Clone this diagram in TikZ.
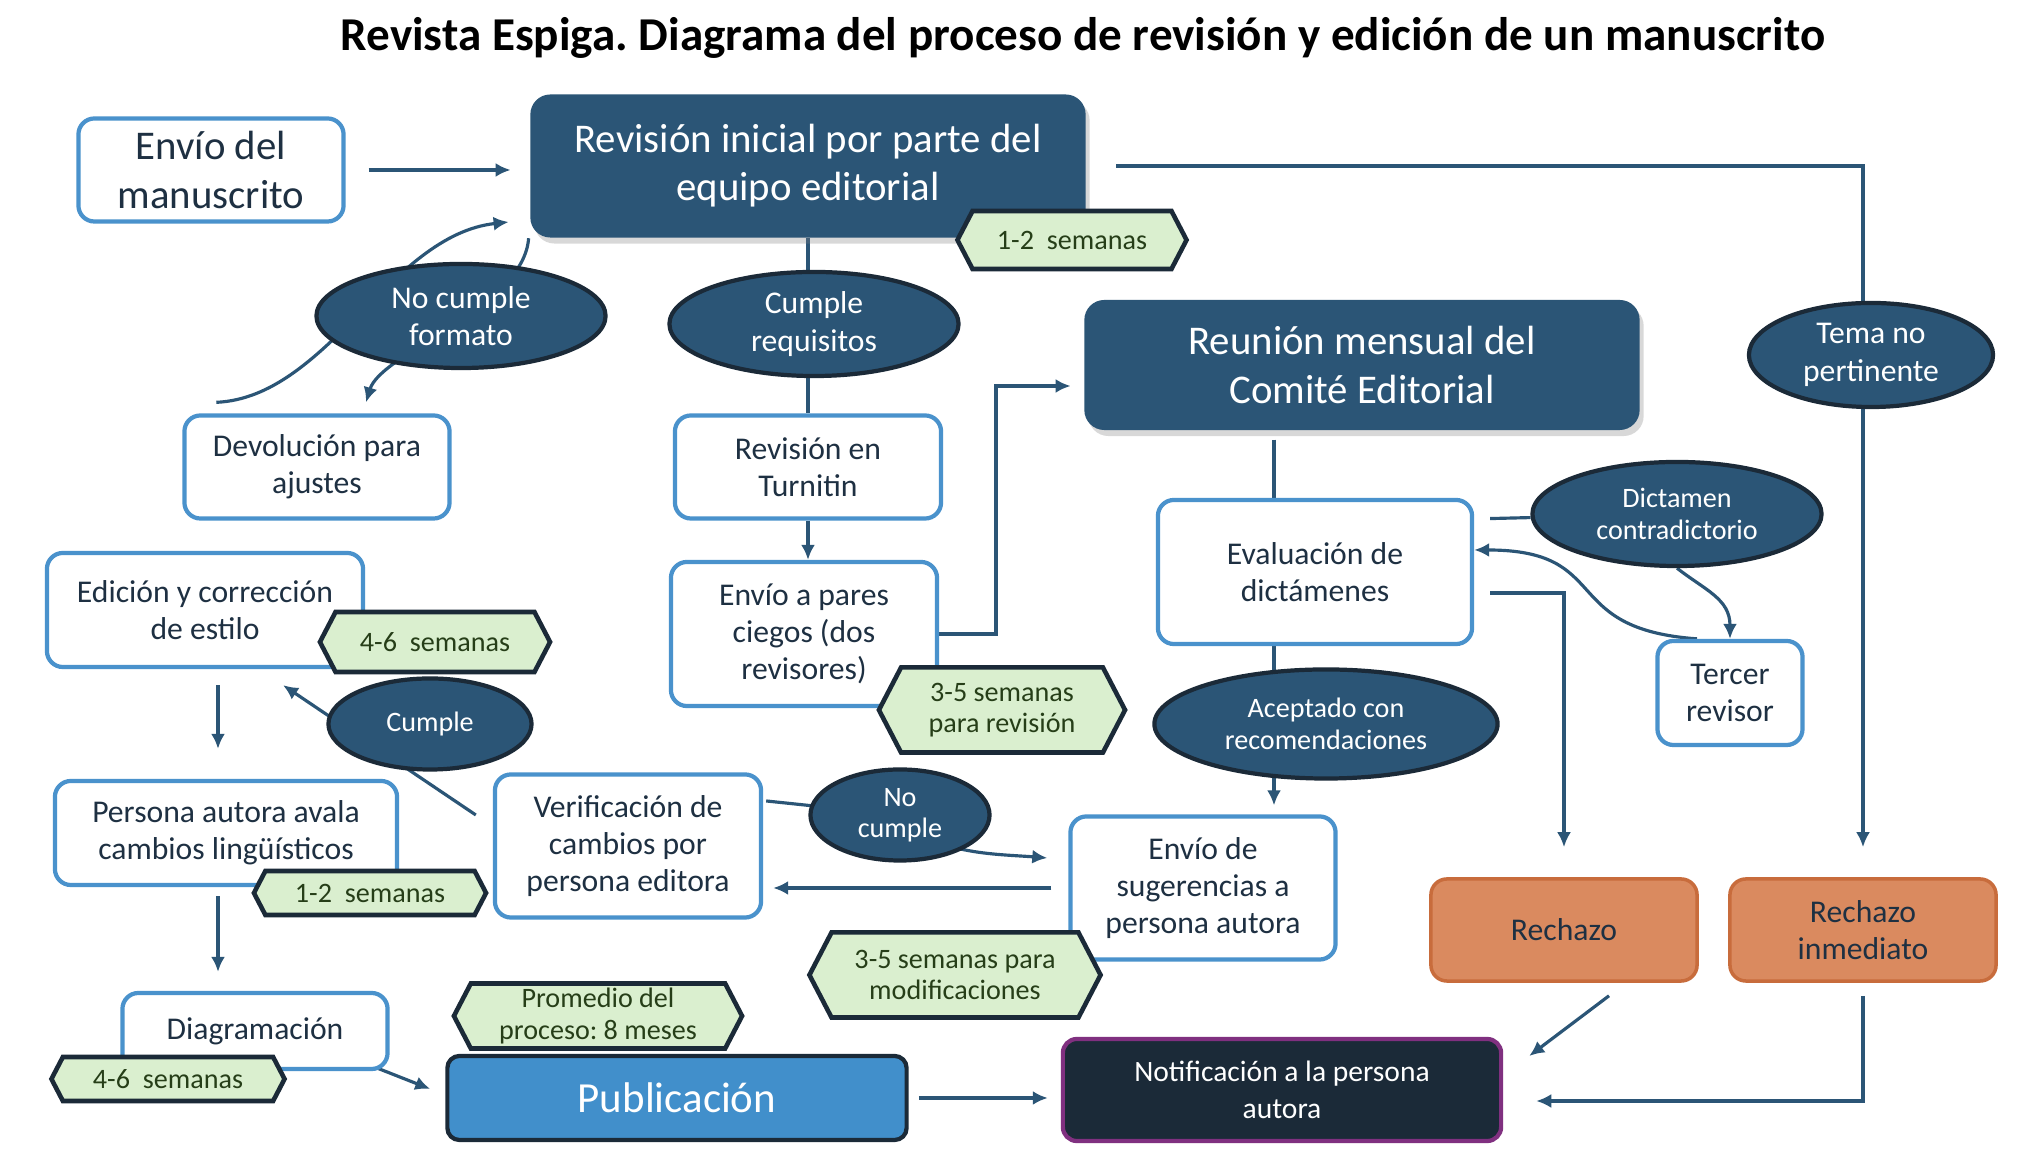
\documentclass[tikz,border=0pt]{standalone}
\usepackage{fontspec}
\setmainfont{Carlito}
\usetikzlibrary{arrows.meta,shapes.geometric,shapes.symbols,shadows,backgrounds}

\definecolor{navy}{RGB}{27,42,56}
\definecolor{dblue}{RGB}{43,85,118}
\definecolor{lblue}{RGB}{74,146,204}
\definecolor{pblue}{RGB}{65,143,203}
\definecolor{tagfill}{RGB}{218,239,207}
\definecolor{tagtext}{RGB}{38,62,24}
\definecolor{orfill}{RGB}{218,138,95}
\definecolor{ordraw}{RGB}{200,108,60}
\definecolor{purp}{RGB}{128,48,128}
\definecolor{txt}{RGB}{30,48,66}

\begin{document}
\frenchspacing
\begin{tikzpicture}[
        x=0.01cm, y=-0.01cm,
        big/.style={font=\fontsize{11.6}{13.7}\selectfont},
        box/.style={
          draw=lblue,
          line width=1.2pt,
          fill=white,
          rounded corners=.16cm,
          align=center,
          text=txt,
          inner sep=1pt,
          font=\fontsize{9}{10.6}\selectfont
        },
        dbox/.style={
          fill=dblue,
          rounded corners=.2cm,
          align=center,
          text=white,
          big,
          drop shadow={shadow xshift=.04cm, shadow yshift=-.06cm, opacity=.3}
        },
        ov/.style={
          ellipse,
          fill=dblue,
          draw=navy,
          line width=1.2pt,
          align=center,
          text=white,
          inner sep=0pt,
          font=\fontsize{9}{10.7}\selectfont
        },
        ovs/.style={ov, font=\fontsize{8}{8.9}\selectfont},
        tag/.style={
          signal,
          signal to=west and east,
          signal pointer angle=125,
          fill=tagfill,
          draw=navy,
          line width=1.3pt,
          align=center,
          text=tagtext,
          inner sep=1pt,
          font=\fontsize{8}{8.9}\selectfont
        },
        rej/.style={
          fill=orfill,
          draw=ordraw,
          line width=1pt,
          rounded corners=.16cm,
          align=center,
          text=txt,
          font=\fontsize{9}{10.6}\selectfont
        },
        ln/.style={draw=dblue, line width=.9pt},
        arr/.style={ln, -{Latex[length=.15cm,width=.14cm]}}
      ]

      \useasboundingbox (0,0) rectangle (2038,1168);

      % Title
      \node[font=\fontsize{13.4}{15}\selectfont\bfseries] (title) at (1083,38)
        {Revista Espiga. Diagrama del proceso de revisión y edición de un manuscrito};

      % Boxes
      \node[box, big, minimum width=2.65cm, minimum height=1.03cm] (envio) at (211,170) {Envío del\\manuscrito};
      \node[dbox, minimum width=5.55cm, minimum height=1.43cm] (revini) at (808,166) {Revisión inicial por parte del\\equipo editorial};
      \node[dbox, minimum width=5.55cm, minimum height=1.3cm] (reunion) at (1362,365) {Reunión mensual del\\Comité Editorial};
      \node[box, minimum width=2.65cm, minimum height=1.03cm] (devol) at (317,467) {Devolución para\\ajustes};
      \node[box, minimum width=2.66cm, minimum height=1.03cm] (turnitin) at (808,467) {Revisión en\\Turnitin};
      \node[box, minimum width=3.16cm, minimum height=1.14cm] (edicion) at (205,610) {Edición y corrección\\de estilo};
      \node[box, minimum width=2.66cm, minimum height=1.44cm] (pares) at (804,634) {Envío a pares\\ciegos (dos\\revisores)};
      \node[box, minimum width=3.14cm, minimum height=1.44cm] (evalua) at (1315,572) {Evaluación de\\dictámenes};
      \node[box, minimum width=1.45cm, minimum height=1.04cm] (tercer) at (1730,693) {Tercer\\revisor};
      \node[box, minimum width=3.42cm, minimum height=1.04cm] (avala) at (226,833) {Persona autora avala\\cambios lingüísticos};
      \node[box, minimum width=2.66cm, minimum height=1.43cm] (verif) at (628,846) {Verificación de\\cambios por\\persona editora};
      \node[box, minimum width=2.65cm, minimum height=1.43cm] (envsug) at (1203,888) {Envío de\\sugerencias a\\persona autora};
      \node[rej, minimum width=2.66cm, minimum height=1.02cm] (rechazo) at (1564,930) {Rechazo};
      \node[rej, minimum width=2.66cm, minimum height=1.02cm] (rechinm) at (1863,930) {Rechazo\\inmediato};
      \node[box, minimum width=2.65cm, minimum height=.76cm] (diagram) at (255,1031) {Diagramación};
      \node[fill=pblue, draw=navy, line width=1.2pt, rounded corners=.12cm, text=white,
            font=\fontsize{12.2}{14}\selectfont, minimum width=4.59cm, minimum height=.84cm] (publ) at (677,1098) {Publicación};
      \node[fill=navy, draw=purp, line width=1.2pt, rounded corners=.14cm, text=white, align=center,
            font=\fontsize{8.4}{10.6}\selectfont, minimum width=4.38cm, minimum height=1.02cm] (notif) at (1282,1090) {Notificación a la persona\\autora};

      % Decision ellipses
      \node[ov, minimum width=2.89cm, minimum height=1.04cm] (nocf) at (461,316) {No cumple\\formato};
      \node[ov, minimum width=2.89cm, minimum height=1.04cm] (cumreq) at (814,324) {Cumple\\requisitos};
      \node[ov, minimum width=2.44cm, minimum height=1.04cm] (tema) at (1871,355) {Tema no\\pertinente};
      \node[ovs, minimum width=2.89cm, minimum height=1.04cm] (dictamen) at (1677,514) {Dictamen\\contradictorio};
      \node[ovs, minimum width=2.03cm, minimum height=.91cm] (cumple) at (430,724) {Cumple};
      \node[ovs, minimum width=1.79cm, minimum height=.91cm] (nocum) at (900,815) {No\\cumple};
      \node[ovs, minimum width=3.43cm, minimum height=1.09cm] (acept) at (1326,724) {Aceptado con\\recomendaciones};

      % Time tags
      \node[tag, minimum width=2.29cm, minimum height=.58cm] (t12a) at (1072,240) {1-2\ \ semanas};
      \node[tag, minimum width=2.3cm, minimum height=.6cm] (t46a) at (435,642) {4-6\ \ semanas};
      \node[tag, minimum width=2.46cm, minimum height=.85cm] (t35a) at (1002,710) {3-5 semanas\\para revisión};
      \node[tag, minimum width=2.32cm, minimum height=.44cm] (t12b) at (370,893) {1-2\ \ semanas};
      \node[tag, minimum width=2.91cm, minimum height=.85cm] (t35b) at (955,975) {3-5 semanas para\\modificaciones};
      \node[tag, minimum width=2.33cm, minimum height=.44cm] (t46b) at (168,1079) {4-6\ \ semanas};
      \node[tag, minimum width=2.88cm, minimum height=.65cm] (prom) at (598,1016) {Promedio del\\proceso: 8 meses};

      \coordinate (kneeA) at (996,0);
      \coordinate (colE) at (1274,0);
      \coordinate (colL) at (218,0);

      \begin{scope}[on background layer]
        \fill[white] (0,0) rectangle (2038,1168);
        % top row
        \draw[arr, shorten <=.23cm, shorten >=.19cm] (envio.east) -- (envio.east -| revini.west);
        \draw[arr, shorten <=.3cm, shorten >=.3cm] (revini.east) -| (rechinm.north);
        \draw[arr] ([xshift=-.01cm]revini.south west) .. controls +(-5,70) and +(15,-50) .. ([xshift=.49cm,yshift=.11cm]devol.north);
        \draw[arr] ([xshift=.34cm,yshift=.11cm]devol.north west) .. controls +(111,-5) and +(-119,13) .. ([xshift=-.21cm,yshift=-.56cm]revini.west);
        % middle column
        \draw[ln] (revini) -- (turnitin);
        \draw[arr] (turnitin.south) -- (turnitin.south |- pares.north);
        \draw[arr, shorten >=.13cm] (pares.east) -- (pares.east -| kneeA) |- ([yshift=-.21cm]reunion.west);
        % committee
        \draw[ln, shorten <=.09cm] (reunion.south -| colE) -- (evalua.north -| colE);
        \draw[arr, shorten >=.09cm] (evalua.south -| colE) -- (envsug.north -| colE);
        \draw[ln, shorten <=.16cm] ([yshift=.53cm]evalua.east) -- (dictamen);
        \draw[arr] (dictamen.south) .. controls +(28,22) and +(0,-40) .. (tercer.north);
        \draw[arr] ([xshift=-.33cm]tercer.north) .. controls +(-140,-10) and +(140,0) .. ([yshift=.22cm]evalua.east);
        \draw[arr, shorten <=.16cm, shorten >=.3cm] ([yshift=-.21cm]evalua.east) -| (rechazo.north);
        \draw[arr] ([xshift=.45cm,yshift=-.13cm]rechazo.south) -- ([xshift=.26cm,yshift=.34cm]notif.east);
        \draw[arr, shorten <=.13cm, shorten >=.33cm] (rechinm.south) |- ([yshift=-.11cm]notif.east);
        % author changes loop
        \draw[arr] ([xshift=.03cm,yshift=.45cm]verif.east) -- (nocum.center) .. controls +(30,40) and +(-50,-4) .. ([xshift=-.21cm,yshift=.3cm]envsug.west);
        \draw[arr, shorten <=.17cm, shorten >=.1cm] (envsug.west) -- (envsug.west -| verif.east);
        \draw[arr] ([xshift=-.17cm,yshift=.31cm]verif.west) -- ([xshift=.78cm,yshift=-.16cm]edicion.south);
        % left column
        \draw[arr, shorten <=.16cm, shorten >=.3cm] (edicion.south -| colL) -- (avala.north -| colL);
        \draw[arr, shorten <=.09cm, shorten >=.19cm] (avala.south -| colL) -- (diagram.north -| colL);
        \draw[arr] ([xshift=-.33cm,yshift=-.29cm]diagram.east) -- ([xshift=-.15cm,yshift=.09cm]publ.west);
        \draw[arr, shorten <=.1cm, shorten >=.13cm] (publ.east) -- (publ.east -| notif.west);
      \end{scope}

    \end{tikzpicture}
\end{document}
